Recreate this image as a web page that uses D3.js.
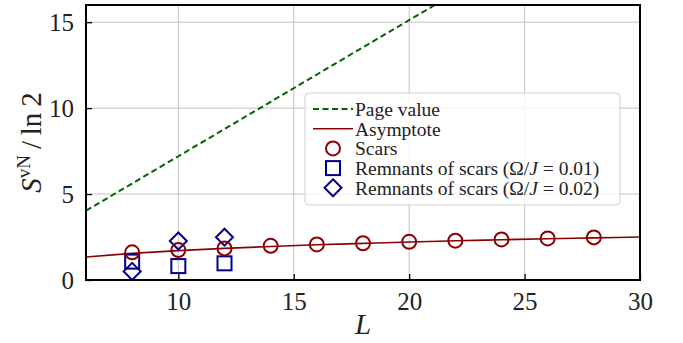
<!DOCTYPE html>
<html>
<head>
<meta charset="utf-8">
<script src="https://cdn.jsdelivr.net/npm/d3@7"></script>
<style>
  body { margin: 0; background: #fff; }
</style>
</head>
<body>
<div id="graphic"></div>
<script>
// values
var pageL = [6, 10, 14, 18, 22, 26, 30];
var pageS = [4.03, 7.2, 10.37, 13.54, 16.7, 19.87, 23.04];
var asymL = [6, 8, 10, 12, 14, 16, 18, 20, 22, 24, 26, 28, 30];
var asymS = [1.34, 1.55, 1.71, 1.84, 1.95, 2.05, 2.13, 2.21, 2.28, 2.34, 2.4, 2.45, 2.5];
var scarsL = [8, 10, 12, 14, 16, 18, 20, 22, 24, 26, 28];
var scarsS = [1.61, 1.74, 1.84, 1.99, 2.07, 2.14, 2.22, 2.29, 2.36, 2.42, 2.48];
var rem1L = [8, 10, 12];
var rem1S = [1.07, 0.81, 0.97];
var rem2L = [8, 10, 12];
var rem2S = [0.5, 2.27, 2.49];
var xTicks = [10, 15, 20, 25, 30];
var yTicks = [0, 5, 10, 15];

var graphic = {};
var FONT = "'Liberation Serif'";

graphic.create = function() {
  var width = 683, height = 343;
  var margin = {left: 86, right: 43, top: 5, bottom: 63};
  var red = "#8b0000", blue = "#00008b", green = "#006400";

  var svg = d3.select("#graphic").append("svg").attr("width", width).attr("height", height);

  var x = d3.scaleLinear().domain([6, 30]).range([margin.left, width - margin.right]);
  var y = d3.scaleLinear().domain([0, 16]).range([height - margin.bottom, margin.top]);

  svg.append("defs").append("clipPath").attr("id", "clip")
    .append("rect").attr("x", x(6)).attr("y", y(16)).attr("width", x(30) - x(6)).attr("height", y(0) - y(16));

  // grid
  var grid = svg.append("g");
  grid.selectAll(".gx").data(xTicks.slice(0, -1)).enter().append("line")
    .attr("x1", function(d) { return x(d); }).attr("x2", function(d) { return x(d); })
    .attr("y1", y(0)).attr("y2", y(16)).attr("stroke", "#c4c4c4").attr("stroke-width", 1);
  grid.selectAll(".gy").data(yTicks.slice(1)).enter().append("line")
    .attr("x1", x(6)).attr("x2", x(30))
    .attr("y1", function(d) { return y(d); }).attr("y2", function(d) { return y(d); })
    .attr("stroke", "#c4c4c4").attr("stroke-width", 1);

  var plot = svg.append("g").attr("clip-path", "url(#clip)");
  var line = d3.line().x(function(d) { return x(d[0]); }).y(function(d) { return y(d[1]); });

  plot.append("path").datum(d3.zip(pageL, pageS)).attr("d", line)
    .attr("fill", "none").attr("stroke", green).attr("stroke-width", 2).attr("stroke-dasharray", "6,3.5");
  plot.append("path").datum(d3.zip(asymL, asymS)).attr("d", d3.line().curve(d3.curveMonotoneX)
      .x(function(d) { return x(d[0]); }).y(function(d) { return y(d[1]); }))
    .attr("fill", "none").attr("stroke", red).attr("stroke-width", 1.6);

  var pts = svg.append("g");
  pts.selectAll(".sq").data(d3.zip(rem1L, rem1S)).enter().append("rect")
    .attr("x", function(d) { return x(d[0]) - 7; }).attr("y", function(d) { return y(d[1]) - 7; })
    .attr("width", 14).attr("height", 14)
    .attr("fill", "none").attr("stroke", blue).attr("stroke-width", 2);
  pts.selectAll(".dm").data(d3.zip(rem2L, rem2S)).enter().append("path")
    .attr("d", function(d) {
      var cx = x(d[0]), cy = y(d[1]), r = 8.5;
      return "M" + cx + "," + (cy - r) + "L" + (cx + r) + "," + cy + "L" + cx + "," + (cy + r) + "L" + (cx - r) + "," + cy + "Z";
    })
    .attr("fill", "none").attr("stroke", blue).attr("stroke-width", 2);
  pts.selectAll("circle").data(d3.zip(scarsL, scarsS)).enter().append("circle")
    .attr("cx", function(d) { return x(d[0]); }).attr("cy", function(d) { return y(d[1]); })
    .attr("r", 7).attr("fill", "none").attr("stroke", red).attr("stroke-width", 2);

  // axes
  var xAxis = svg.append("g").attr("transform", "translate(0," + y(0) + ")")
    .call(d3.axisBottom(x).tickValues(xTicks).tickSizeInner(-6).tickSizeOuter(0).tickPadding(12));
  var yAxis = svg.append("g").attr("transform", "translate(" + x(6) + ",0)")
    .call(d3.axisLeft(y).tickValues(yTicks).tickSizeInner(-6).tickSizeOuter(0).tickPadding(12));
  [xAxis, yAxis].forEach(function(a) {
    a.attr("font-family", null).attr("font-size", null);
    a.select(".domain").remove();
    a.selectAll(".tick line").attr("stroke", "#000").attr("stroke-width", 1.3);
    a.selectAll(".tick text").style("font-size", "25px").style("font-family", FONT).attr("fill", "#222");
  });
  xAxis.selectAll(".tick text").attr("dy", "0.72em");

  svg.append("rect").attr("x", x(6)).attr("y", y(16)).attr("width", x(30) - x(6)).attr("height", y(0) - y(16))
    .attr("fill", "none").attr("stroke", "#000").attr("stroke-width", 2);

  // axis labels
  svg.append("text").attr("x", (x(6) + x(30)) / 2).attr("y", 334).attr("text-anchor", "middle")
    .style("font-family", FONT).style("font-size", "29px").style("font-style", "italic").attr("fill", "#222").text("L");
  var yl = svg.append("text").attr("transform", "translate(41," + ((y(0) + y(16)) / 2) + ") rotate(-90)")
    .attr("text-anchor", "middle").style("font-family", FONT).style("font-size", "29px").attr("fill", "#222");
  yl.append("tspan").style("font-style", "italic").text("S");
  yl.append("tspan").style("font-size", "19px").attr("dy", -11).text("vN");
  yl.append("tspan").attr("dy", 11).text("\u2009/\u2009ln\u20092");

  // legend
  var lg = svg.append("g").attr("transform", "translate(305,93)");
  lg.append("rect").attr("width", 315).attr("height", 112).attr("rx", 4)
    .attr("fill", "#fff").attr("fill-opacity", 0.8).attr("stroke", "#d0d0d0");
  var rows = [
    {type: "dash", label: "Page value"},
    {type: "line", label: "Asymptote"},
    {type: "circle", label: "Scars"},
    {type: "square", label: "Remnants of scars (\u03A9/J = 0.01)"},
    {type: "diamond", label: "Remnants of scars (\u03A9/J = 0.02)"}
  ];
  var row = lg.selectAll(".row").data(rows).enter().append("g")
    .attr("transform", function(d, i) { return "translate(0," + (16 + i * 19.7) + ")"; });
  row.each(function(d) {
    var g = d3.select(this);
    if (d.type == "dash") g.append("line").attr("x1", 8).attr("x2", 48).attr("stroke", green).attr("stroke-width", 2).attr("stroke-dasharray", "6,3.5");
    if (d.type == "line") g.append("line").attr("x1", 8).attr("x2", 48).attr("stroke", red).attr("stroke-width", 1.6);
    if (d.type == "circle") g.append("circle").attr("cx", 28).attr("r", 7).attr("fill", "none").attr("stroke", red).attr("stroke-width", 2);
    if (d.type == "square") g.append("rect").attr("x", 21).attr("y", -7).attr("width", 14).attr("height", 14).attr("fill", "none").attr("stroke", blue).attr("stroke-width", 2);
    if (d.type == "diamond") g.append("path").attr("d", "M28,-8.5L36.5,0L28,8.5L19.5,0Z").attr("fill", "none").attr("stroke", blue).attr("stroke-width", 2);
    var t = g.append("text").attr("x", 50).attr("dy", "0.35em").style("font-family", FONT).style("font-size", "19.5px").attr("fill", "#222");
    if (d.type == "square" || d.type == "diamond") {
      t.append("tspan").text("Remnants of scars (\u03A9/");
      t.append("tspan").style("font-style", "italic").text("J");
      t.append("tspan").text(d.type == "square" ? " = 0.01)" : " = 0.02)");
    } else {
      t.text(d.label);
    }
  });
};

graphic.create();
</script>
</body>
</html>
